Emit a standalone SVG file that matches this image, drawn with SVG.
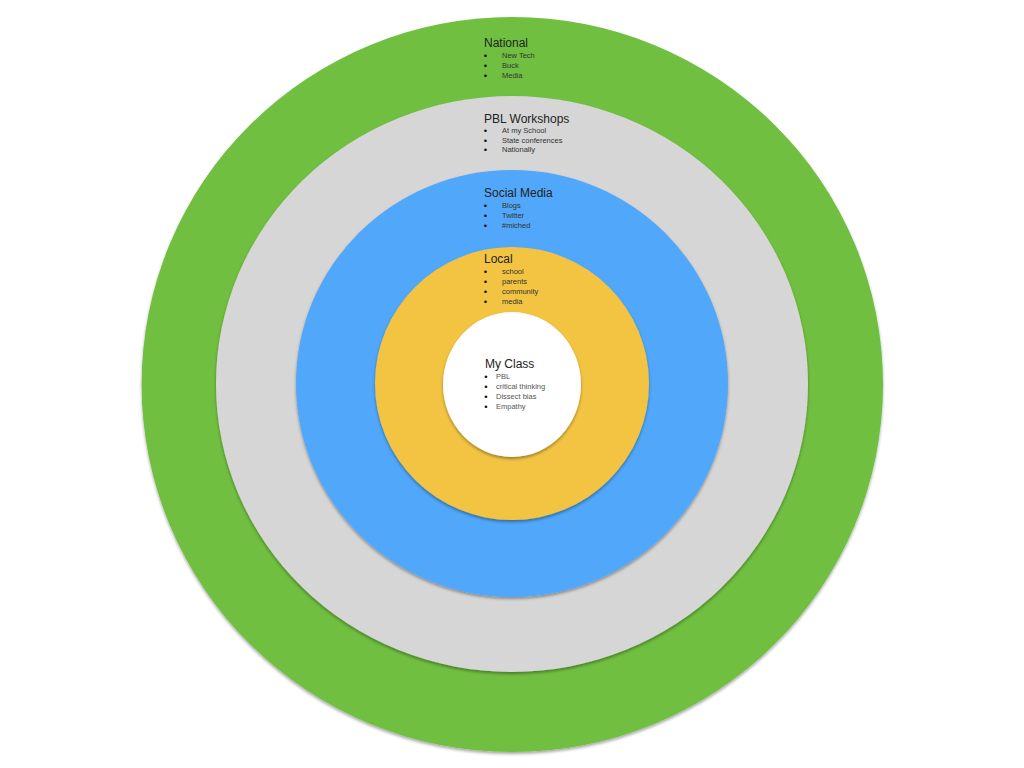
<svg xmlns="http://www.w3.org/2000/svg" width="1024" height="768" viewBox="0 0 1024 768">
<defs>
<filter id="sh" x="-10%" y="-10%" width="120%" height="120%">
<feDropShadow dx="0" dy="2" stdDeviation="1.8" flood-color="#000" flood-opacity="0.35"/>
</filter>
<style>
.ring{filter:url(#sh)}
.t{font-family:"Liberation Sans",Arial,sans-serif;font-size:12px;fill:#222}
.i{font-family:"Liberation Sans",Arial,sans-serif;font-size:7.5px;fill:#333}
.b{font-family:"Liberation Sans",Arial,sans-serif;font-size:9.5px;fill:#111;text-anchor:middle}
.g .i{fill:#555}
</style>
</defs>
<rect width="1024" height="768" fill="#fff"/>
<g id="national">
<ellipse class="ring" cx="512.3" cy="384.5" rx="370.7" ry="367.5" fill="#70BF41"/>
<text class="t" x="484" y="47">National</text>
<text class="b" x="485.5" y="58.5">•</text><text class="i" x="502" y="57.7">New Tech</text>
<text class="b" x="485.5" y="68.5">•</text><text class="i" x="502" y="67.7">Buck</text>
<text class="b" x="485.5" y="78.5">•</text><text class="i" x="502" y="77.7">Media</text>
</g>
<g id="pbl-workshops">
<ellipse class="ring" cx="512" cy="384" rx="296" ry="288" fill="#D6D6D6"/>
<text class="t" x="484" y="122.7">PBL Workshops</text>
<text class="b" x="485.5" y="134">•</text><text class="i" x="502" y="133.2">At my School</text>
<text class="b" x="485.5" y="143.5">•</text><text class="i" x="502" y="142.8">State conferences</text>
<text class="b" x="485.5" y="153">•</text><text class="i" x="502" y="152.4">Nationally</text>
</g>
<g id="social-media">
<ellipse class="ring" cx="512" cy="383.5" rx="216" ry="213.5" fill="#51A7F9"/>
<text class="t" x="484" y="197.3">Social Media</text>
<text class="b" x="485.5" y="208.5">•</text><text class="i" x="502" y="207.7">Blogs</text>
<text class="b" x="485.5" y="218.5">•</text><text class="i" x="502" y="217.7">Twitter</text>
<text class="b" x="485.5" y="228.5">•</text><text class="i" x="502" y="227.7">#miched</text>
</g>
<g id="local">
<ellipse class="ring" cx="512" cy="383.5" rx="137" ry="136.5" fill="#F2C443"/>
<text class="t" x="484" y="263">Local</text>
<text class="b" x="485.5" y="275">•</text><text class="i" x="502" y="274.3">school</text>
<text class="b" x="485.5" y="285">•</text><text class="i" x="502" y="284.3">parents</text>
<text class="b" x="485.5" y="295">•</text><text class="i" x="502" y="294.3">community</text>
<text class="b" x="485.5" y="305">•</text><text class="i" x="502" y="304.3">media</text>
</g>
<g id="my-class" class="g">
<ellipse class="ring" cx="512" cy="384.5" rx="69" ry="72.5" fill="#FFFFFF"/>
<text class="t" x="485" y="368.3">My Class</text>
<text class="b" x="486" y="379.5">•</text><text class="i" x="496" y="378.7">PBL</text>
<text class="b" x="486" y="389.5">•</text><text class="i" x="496" y="388.7">critical thinking</text>
<text class="b" x="486" y="399.5">•</text><text class="i" x="496" y="398.7">Dissect bias</text>
<text class="b" x="486" y="409.5">•</text><text class="i" x="496" y="408.7">Empathy</text>
</g>
<g id="connectors"></g>
</svg>
